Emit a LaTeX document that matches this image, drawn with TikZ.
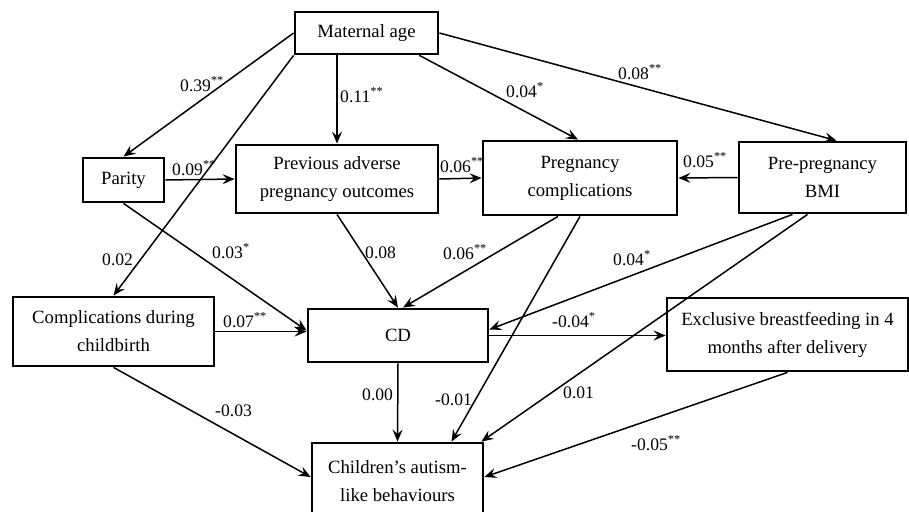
\documentclass[tikz,border=0pt]{standalone}
\usepackage{fontspec}
\setmainfont{Liberation Serif}
\usetikzlibrary{arrows.meta,calc}

\begin{document}
\begin{tikzpicture}[x=1pt,y=-1pt]
\tikzset{varbox/.style={draw,line width=2.8pt,align=center,inner sep=0pt,font=\fontsize{18.7}{28}\selectfont}}
\tikzset{arr/.style={line width=1.5pt,-{Stealth[length=12pt,width=10pt,inset=4.5pt]}}}
\tikzset{coef/.style={anchor=base west,inner sep=0pt,font=\fontsize{17.6}{20}\selectfont}}
\useasboundingbox (0,0) rectangle (909,511);

% variables
\node[varbox,minimum width=143pt,minimum height=42pt] (mat) at (366.5,33) {Maternal age};
\node[varbox,minimum width=81pt,minimum height=44pt] (par) at (123.5,180) {Parity};
\node[varbox,minimum width=202pt,minimum height=68pt] (prev) at (337,179) {Previous adverse\\pregnancy outcomes};
\node[varbox,minimum width=194pt,minimum height=74pt] (preg) at (580,178) {Pregnancy\\complications};
\node[varbox,minimum width=167pt,minimum height=71pt] (bmi) at (822.5,177.5) {Pre-pregnancy\\BMI};
\node[varbox,minimum width=201pt,minimum height=69pt] (cdb) at (113.5,331.5) {Complications during\\childbirth};
\node[varbox,minimum width=180pt,minimum height=53pt] (cd) at (398,335.5) {CD};
\node[varbox,minimum width=241pt,minimum height=73pt] (ebf) at (787.5,334.5) {Exclusive breastfeeding in 4\\months after delivery};
\node[varbox,minimum width=171pt,minimum height=76pt] (chi) at (397.5,481) {Children’s autism-\\like behaviours};

% paths
\draw[arr] (mat.west) -- (par.north);
\draw[arr] (mat.south west) -- (cdb.north);
\draw[arr] (mat.south -| prev.north) -- (prev.north);
\draw[arr] ($(mat.south east)+(-20,0)$) -- ($(preg.north)+(-2,0)$);
\draw[arr] (mat.east) -- ($(bmi.north)+(14,0)$);
\draw[arr] (par.east) -- (prev.west);
\draw[arr] (par.south) -- ($(cd.west)+(0,-5)$);
\draw[arr] (prev.east) -- (preg.west);
\draw[arr] (bmi.west) -- (preg.east);
\draw[arr] (prev.south) -- (cd.north);
\draw[arr] ($(preg.south)+(-22,0)$) -- ($(cd.north)+(5,0)$);
\draw[arr] (cdb.east) -- (cdb.east -| cd.west);
\draw[arr] ($(bmi.south)+(-30,0)$) -- ($(cd.east)+(0,-6)$);
\draw[arr] (cd.east) -- (cd.east -| ebf.west);
\draw[arr] (cd.south) -- (chi.north);
\draw[arr] (preg.south) -- ($(chi.north)+(54,0)$);
\draw[arr] ($(bmi.south)+(-15,0)$) -- ($(chi.north east)+(-3,0)$);
\draw[arr] (cdb.south) -- ($(chi.west)+(0,-4)$);
\draw[arr] (ebf.south) -- ($(chi.east)+(0,-4)$);

% coefficients
\node[coef] (c1) at (180,91) {0.39\textsuperscript{**}};
\node[coef] (c2) at (340,102) {0.11\textsuperscript{**}};
\node[coef] (c3) at (506,97) {0.04\textsuperscript{*}};
\node[coef] (c4) at (618,79) {0.08\textsuperscript{**}};
\node[coef] (c5) at (172,175) {0.09\textsuperscript{**}};
\node[coef] (c6) at (440,172) {0.06\textsuperscript{**}};
\node[coef] (c7) at (683,167) {0.05\textsuperscript{**}};
\node[coef] (c8) at (102,265) {0.02};
\node[coef] (c9) at (212,258) {0.03\textsuperscript{*}};
\node[coef] (c10) at (365,258) {0.08};
\node[coef] (c11) at (443,259) {0.06\textsuperscript{**}};
\node[coef] (c12) at (613,265) {0.04\textsuperscript{*}};
\node[coef] (c13) at (223,327) {0.07\textsuperscript{**}};
\node[coef] (c14) at (552,327) {-0.04\textsuperscript{*}};
\node[coef] (c15) at (362,400) {0.00};
\node[coef] (c16) at (435,405) {-0.01};
\node[coef] (c17) at (563,398) {0.01};
\node[coef] (c18) at (215,416) {-0.03};
\node[coef] (c19) at (631,450) {-0.05\textsuperscript{**}};
\end{tikzpicture}
\end{document}
